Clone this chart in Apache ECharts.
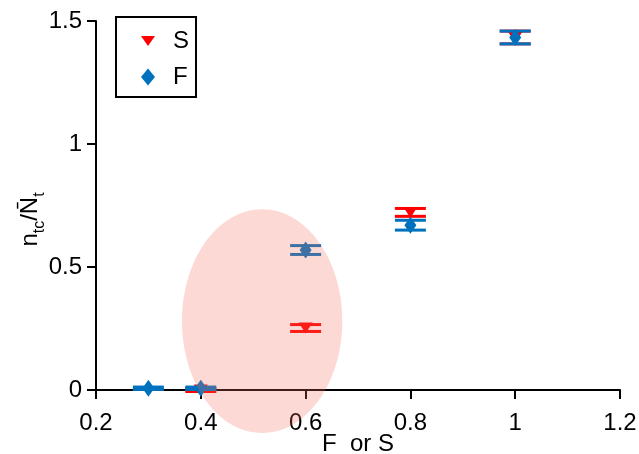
<!DOCTYPE html>
<html>
<head>
<meta charset="utf-8">
<script src="https://cdn.jsdelivr.net/npm/echarts@6/dist/echarts.min.js"></script>
<style>
  html, body { margin: 0; padding: 0; background: #fff; }
  #chart { width: 639px; height: 454px; }
</style>
</head>
<body>
<div id="chart"></div>
<script>
// Fraction (F or S) on the x axis
const fractions = [0.3, 0.4, 0.6, 0.8, 1.0];
// S series: mean and half-width of the error bar (no S run at 0.3)
const sValues = [null, 0.0, 0.252, 0.722, 1.433];
const sErrors = [null, 0.006, 0.014, 0.016, 0.026];
// F series: mean and half-width of the error bar
const fValues = [0.007, 0.007, 0.569, 0.670, 1.433];
const fErrors = [0.005, 0.005, 0.018, 0.020, 0.026];
// Highlighted region (centre and radii, in data units)
const regionCenter = [0.517, 0.28];
const regionRadii = [0.153, 0.455];

const FONT = '"Liberation Sans", Arial, sans-serif';
const RED = '#ff0000';
const BLUE = '#0072bd';
const DOWN_TRIANGLE = 'path://M0,0 L14,0 L7,10 Z';

function pts(vals) {
  return fractions.map((x, i) => [x, vals[i]]).filter(p => p[1] !== null);
}
function errData(vals, errs) {
  return fractions.map((x, i) => vals[i] === null ? null : [x, vals[i] - errs[i], vals[i] + errs[i]])
    .filter(p => p !== null);
}

function errorBarSeries(vals, errs, color, z) {
  return {
    type: 'custom',
    data: errData(vals, errs),
    z: z,
    renderItem: function (params, api) {
      const x = api.value(0);
      const lo = api.coord([x, api.value(1)]);
      const hi = api.coord([x, api.value(2)]);
      const half = 15.5;
      const style = { stroke: color, lineWidth: 3, fill: null };
      return {
        type: 'group',
        children: [
          { type: 'line', shape: { x1: lo[0], y1: lo[1], x2: hi[0], y2: hi[1] }, style: style },
          { type: 'line', shape: { x1: lo[0] - half, y1: lo[1], x2: lo[0] + half, y2: lo[1] }, style: style },
          { type: 'line', shape: { x1: hi[0] - half, y1: hi[1], x2: hi[0] + half, y2: hi[1] }, style: style }
        ]
      };
    }
  };
}

const chart = echarts.init(document.getElementById('chart'), null, { renderer: 'canvas' });
chart.setOption({
  animation: false,
  backgroundColor: '#fff',
  textStyle: { fontFamily: FONT },
  grid: { left: 96, right: 19, top: 21, bottom: 64, containLabel: false, outerBoundsMode: 'none' },
  legend: {
    data: [
      { name: 'S', icon: DOWN_TRIANGLE },
      { name: 'F', icon: 'diamond' }
    ],
    orient: 'vertical',
    left: 116,
    top: 17,
    padding: [12, 7, 8, 25],
    itemGap: 12,
    itemWidth: 14,
    itemHeight: 17,
    borderColor: '#000',
    borderWidth: 2,
    backgroundColor: '#fff',
    textStyle: { fontSize: 24, color: '#000', fontFamily: FONT, padding: [0, 0, 0, 13] }
  },
  xAxis: {
    type: 'value',
    min: 0.2,
    max: 1.2,
    interval: 0.2,
    name: 'F  or S',
    nameLocation: 'middle',
    nameGap: 42,
    nameMoveOverlap: false,
    nameTextStyle: { fontSize: 24, color: '#000', fontFamily: FONT },
    axisLine: { lineStyle: { color: '#000', width: 2 } },
    axisTick: { inside: false, length: 9, lineStyle: { color: '#000', width: 2 } },
    axisLabel: { fontSize: 24, color: '#000', margin: 21, fontFamily: FONT,
      formatter: v => String(Math.round(v * 10) / 10) },
    splitLine: { show: false }
  },
  yAxis: {
    type: 'value',
    min: 0,
    max: 1.5,
    interval: 0.5,
    name: '{n|n}{sub|tc}{n|/N\u0304}{sub|t}',
    nameLocation: 'middle',
    nameRotate: 90,
    nameGap: 54,
    nameMoveOverlap: false,
    nameTextStyle: {
      color: '#000',
      fontFamily: FONT,
      padding: [0, 28, 0, 0],
      rich: {
        n: { fontSize: 24, fontFamily: FONT, color: '#000', lineHeight: 30, verticalAlign: 'bottom' },
        sub: { fontSize: 16, fontFamily: FONT, color: '#000', lineHeight: 30, verticalAlign: 'bottom', padding: [0, 0, -6, 0] }
      }
    },
    axisLine: { show: true, lineStyle: { color: '#000', width: 2 } },
    axisTick: { show: true, inside: false, length: 9, lineStyle: { color: '#000', width: 2 } },
    axisLabel: { fontSize: 24, color: '#000', margin: 14, fontFamily: FONT },
    splitLine: { show: false }
  },
  series: [
    errorBarSeries(sValues, sErrors, RED, 3),
    {
      name: 'S',
      type: 'scatter',
      data: pts(sValues),
      symbol: DOWN_TRIANGLE,
      symbolSize: [14, 11],
      itemStyle: { color: RED, opacity: 1 },
      z: 4
    },
    errorBarSeries(fValues, fErrors, BLUE, 5),
    {
      name: 'F',
      type: 'scatter',
      data: pts(fValues),
      symbol: 'diamond',
      symbolSize: [12, 17],
      itemStyle: { color: BLUE, opacity: 1 },
      z: 6
    },
    {
      // translucent highlight laid over the marks
      type: 'custom',
      data: [[regionCenter[0], regionCenter[1], regionRadii[0], regionRadii[1]]],
      clip: false,
      z: 10,
      silent: true,
      renderItem: function (params, api) {
        const c = api.coord([api.value(0), api.value(1)]);
        const s = api.size([api.value(2), api.value(3)]);
        return {
          type: 'ellipse',
          shape: { cx: c[0], cy: c[1], rx: s[0], ry: s[1] },
          style: { fill: 'rgba(245, 110, 90, 0.26)', stroke: null }
        };
      }
    }
  ]
});
</script>
</body>
</html>
